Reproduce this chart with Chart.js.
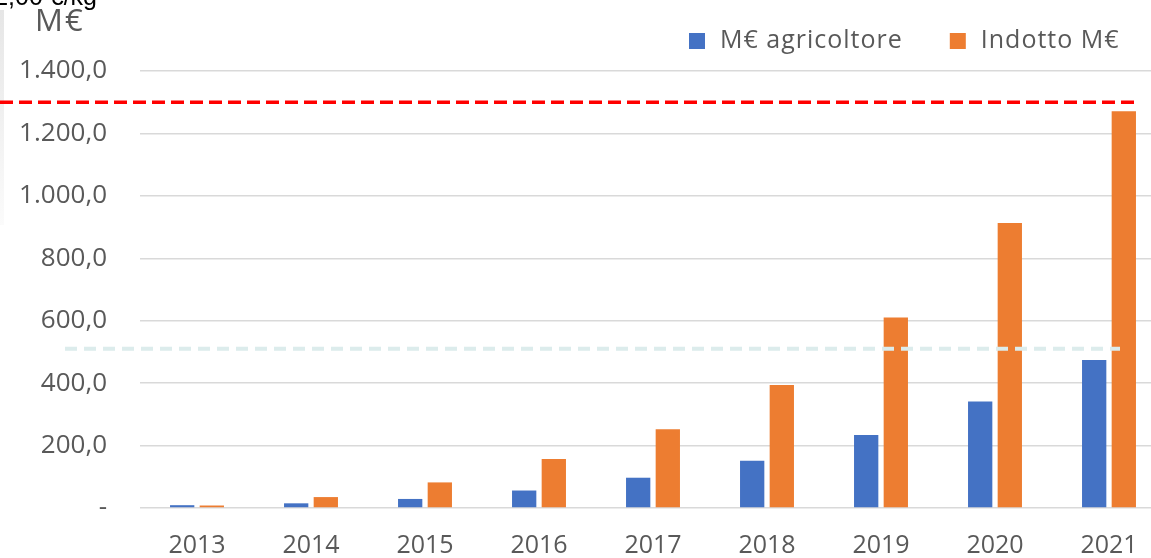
<!DOCTYPE html>
<html>
<head>
<meta charset="utf-8">
<script src="https://cdn.jsdelivr.net/npm/chart.js@4.4.1/dist/chart.umd.min.js"></script>
<style>
  html, body { margin: 0; padding: 0; background: #fff; overflow: hidden; }
  #wrap { width: 1166px; height: 558px; position: relative; }
</style>
</head>
<body>
<div id="wrap"><canvas id="valoreChart"></canvas></div>
<script>
// data
const years = ['2013', '2014', '2015', '2016', '2017', '2018', '2019', '2020', '2021'];
const agricoltore = [9, 15, 29, 56, 97, 151, 234, 341, 474];
const indotto = [8, 35, 82, 157, 252, 394, 610, 913, 1271];
const seriesNames = ['M€ agricoltore', 'Indotto M€'];
const yMax = 1400;
const yStep = 200;
const redLineValue = 1300;   // red dashed line
const paleLineValue = 510;   // light dashed line

const textGrey = '#595959';
const fontName = '"Open Sans", sans-serif';

// 1.400,0 style labels, zero shown as "-"
function itNumber(v) {
    if (v === 0) return '-';
    const parts = v.toFixed(1).split('.');
    parts[0] = parts[0].replace(/\B(?=(\d{3})+(?!\d))/g, '.');
    return parts[0] + ',' + parts[1];
}

// extra drawing: header text, legend, dashed lines
const overlay = {
    id: 'overlay',
    beforeDraw(chart) {
        const c = chart.ctx;
        c.save();
        const g = c.createLinearGradient(0, 10, 0, 225);
        g.addColorStop(0, '#e6e6e6');
        g.addColorStop(1, '#fbfbfb');
        c.fillStyle = g;
        c.fillRect(0, 10, 4, 215);

        c.fillStyle = '#000';
        c.font = '25px "Liberation Sans", sans-serif';
        c.textAlign = 'right';
        c.textBaseline = 'alphabetic';
        c.fillText('2,00 €/kg', 97, 5);

        c.fillStyle = textGrey;
        c.font = '31px ' + fontName;
        c.letterSpacing = '2px';
        c.textAlign = 'left';
        c.textBaseline = 'middle';
        c.fillText('M€', 35, 22);

        // legend
        c.font = '25px ' + fontName;
        c.letterSpacing = '1px';
        let x = 689;
        chart.data.datasets.forEach(ds => {
            c.fillStyle = ds.backgroundColor;
            c.fillRect(x, 33, 16, 16);
            c.fillStyle = textGrey;
            c.fillText(ds.label, x + 31, 41);
            x += 31 + c.measureText(ds.label).width + 47;
        });
        c.restore();
    },
    afterDatasetsDraw(chart) {
        const c = chart.ctx;
        const y = chart.scales.y;
        c.save();
        c.lineWidth = 4;
        c.strokeStyle = '#dcecec';
        c.setLineDash([12, 7]);
        let py = y.getPixelForValue(paleLineValue);
        c.beginPath();
        c.moveTo(65, py);
        c.lineTo(1120, py);
        c.stroke();

        c.lineWidth = 3.5;
        c.strokeStyle = '#ff0000';
        c.setLineDash([13, 6]);
        py = y.getPixelForValue(redLineValue);
        c.beginPath();
        c.moveTo(0, py);
        c.lineTo(1138, py);
        c.stroke();
        c.restore();
    }
};

const ctx = document.getElementById('valoreChart');

new Chart(ctx, {
    type: 'bar',
    data: {
        labels: years,
        datasets: [
            {
                label: seriesNames[0],
                data: agricoltore,
                backgroundColor: '#4472C4',
                categoryPercentage: 0.52,
                barPercentage: 0.82,
            },
            {
                label: seriesNames[1],
                data: indotto,
                backgroundColor: '#ED7D31',
                categoryPercentage: 0.52,
                barPercentage: 0.82,
            }
        ]
    },
    options: {
        responsive: true,
        maintainAspectRatio: false,
        animation: false,
        layout: { padding: { top: 71, right: 0, bottom: 0, left: 0 } },
        plugins: {
            legend: { display: false },
            tooltip: { enabled: false }
        },
        scales: {
            x: {
                grid: { display: false, drawTicks: false },
                border: { display: false },
                ticks: {
                    color: textGrey,
                    font: { family: fontName, size: 25 },
                    padding: 23,
                    maxRotation: 0
                },
                afterFit(scale) { scale.height = 50; }
            },
            y: {
                min: 0,
                max: yMax,
                grid: { color: '#d9d9d9', lineWidth: 1.5, drawTicks: false },
                border: { display: false },
                ticks: {
                    stepSize: yStep,
                    color: textGrey,
                    font: { family: fontName, size: 26 },
                    padding: 33,
                    callback: (v) => itNumber(v)
                },
                afterFit(scale) { scale.width = 140; }
            }
        }
    },
    plugins: [overlay]
});
</script>
</body>
</html>
